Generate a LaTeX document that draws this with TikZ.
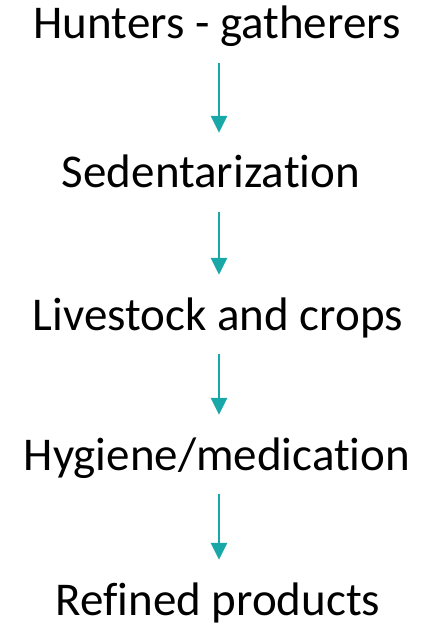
\documentclass[tikz,border=0pt]{standalone}
\usepackage{fontspec}
\setmainfont{Carlito}[Ligatures={NoCommon, NoContextual}]
\usepackage{xcolor}
\usepackage{tikz}
\usetikzlibrary{arrows.meta, positioning}
\definecolor{teal}{RGB}{26, 167, 168}
\tikzstyle{stage} = [anchor=base, inner sep=0pt, text height=30pt, text depth=0pt, font=\fontsize{47}{56}\selectfont]
\tikzstyle{arrow} = [draw=teal, line width=2.8pt, -{Triangle[width=16pt, length=17pt]}, shorten <=24pt, shorten >=25pt]

\begin{document}
\begin{tikzpicture}[x=1pt, y=-1pt]
    \useasboundingbox (0, 0) rectangle (441, 628);
    \node[stage] (hunt) at (217, 39) {Hunters - gatherers};
    \node[stage] (sed) at (211, 188) {Sedentarization};
    \node[stage] (live) at (218, 330) {Livestock and crops};
    \node[stage] (hyg) at (217, 470) {Hygiene/medication};
    \node[stage] (ref) at (218, 615) {Refined products};

    \draw[arrow] (hunt.south -| 219, 0) -- (sed.north -| 219, 0);
    \draw[arrow] (sed.south -| 219, 0) -- (live.north -| 219, 0);
    \draw[arrow] (live.south -| 219, 0) -- (hyg.north -| 219, 0);
    \draw[arrow] (hyg.south -| 219, 0) -- (ref.north -| 219, 0);
\end{tikzpicture}
\end{document}
